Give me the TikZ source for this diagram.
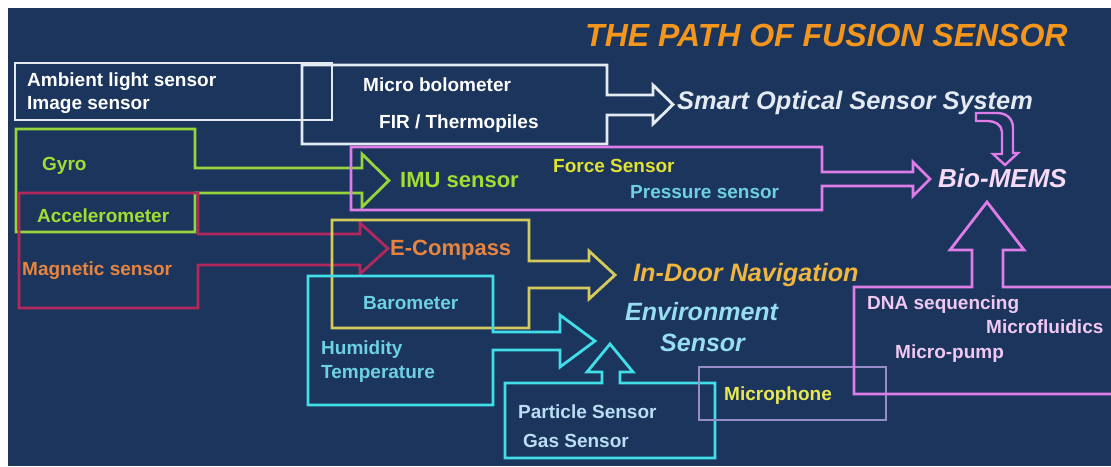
\documentclass[tikz,border=0pt]{standalone}
\usepackage{fontspec}
\setmainfont{Liberation Sans}
\definecolor{bg}{RGB}{27,53,93}
\definecolor{cwhite}{RGB}{228,234,242}
\definecolor{cgreen}{RGB}{150,212,60}
\definecolor{cred}{RGB}{178,40,92}
\definecolor{cpink}{RGB}{222,125,232}
\definecolor{cyel}{RGB}{212,202,92}
\definecolor{ccyan}{RGB}{64,222,232}
\definecolor{clav}{RGB}{150,140,200}
\definecolor{tgreen}{RGB}{160,222,50}
\definecolor{torange}{RGB}{232,132,62}
\definecolor{tyellow}{RGB}{226,226,48}
\definecolor{tcyan}{RGB}{110,208,228}
\definecolor{tlblue}{RGB}{185,222,245}
\definecolor{tenv}{RGB}{150,222,240}
\definecolor{tnav}{RGB}{240,182,62}
\definecolor{tmic}{RGB}{232,232,82}
\definecolor{tpink}{RGB}{240,200,242}
\definecolor{tbio}{RGB}{246,218,246}
\definecolor{ttitle}{RGB}{244,150,28}
\begin{document}
\begin{tikzpicture}[x=1pt,y=-1pt,
  blk/.style={line width=2.8pt, line join=miter},
  lbl/.style={inner sep=0pt, anchor=west, font=\bfseries\fontsize{19}{22}\selectfont, text height=13.6pt, text depth=0pt},
  midlbl/.style={lbl, font=\bfseries\fontsize{22}{26}\selectfont, text height=15.8pt},
  bigit/.style={lbl, font=\bfseries\itshape\fontsize{25}{30}\selectfont, text height=18pt},
  smartit/.style={lbl, font=\bfseries\itshape\fontsize{25.4}{30}\selectfont, text height=18.2pt},
  bioit/.style={lbl, font=\bfseries\itshape\fontsize{26}{31}\selectfont, text height=18.6pt},
  navit/.style={lbl, font=\bfseries\itshape\fontsize{25.2}{30}\selectfont, text height=18pt},
  titlelbl/.style={lbl, font=\bfseries\itshape\fontsize{32}{38}\selectfont, text height=23pt}
]
\useasboundingbox (0,0) rectangle (1111,466);
\fill[white] (0,0) rectangle (1111,466);
\fill[bg] (8,8) rectangle (1111,466);

\begin{scope}
\clip (8,8) rectangle (1111,466);
% white boxes
\draw[blk, cwhite] (15,63) rectangle (332,120);
\draw[blk, cwhite] (302,65) -- (607,65) -- (607,95) -- (653,95) -- (653,85) -- (673,104.5) -- (653,124) -- (653,115) -- (607,115) -- (607,144) -- (302,144) -- cycle;
% green
\draw[blk, cgreen] (16,129) -- (195,129) -- (195,168) -- (362,168) -- (362,154) -- (389,180.5) -- (362,207) -- (362,193) -- (195,193) -- (195,232) -- (16,232) -- cycle;
% crimson
\draw[blk, cred] (19,193) -- (198,193) -- (198,234) -- (360,234) -- (360,223) -- (388,248.5) -- (360,274) -- (360,265) -- (198,265) -- (198,308) -- (19,308) -- cycle;
% pink IMU
\draw[blk, cpink] (351,147) -- (822,147) -- (822,172) -- (913,172) -- (913,162) -- (930,179) -- (913,196) -- (913,186) -- (822,186) -- (822,210) -- (351,210) -- cycle;
% yellow
\draw[blk, cyel] (332,220) -- (529,220) -- (529,261) -- (589,261) -- (589,251) -- (615,275) -- (589,299) -- (589,288) -- (529,288) -- (529,328) -- (332,328) -- cycle;
% cyan 1
\draw[blk, ccyan] (308,276) -- (493,276) -- (493,332) -- (560,332) -- (560,315) -- (595,341) -- (560,367) -- (560,350) -- (493,350) -- (493,405) -- (308,405) -- cycle;
% cyan 2
\draw[blk, ccyan] (505,383) -- (602,383) -- (602,372) -- (587,372) -- (610,344) -- (633,372) -- (620,372) -- (620,383) -- (715,383) -- (715,458) -- (505,458) -- cycle;
% microphone box
\draw[blk, clav] (699,367) rectangle (886,420);
% pink bio
\draw[blk, cpink] (854,287) -- (972,287) -- (972,250) -- (950,250) -- (987,202) -- (1024,250) -- (1003,250) -- (1003,287) -- (1120,287) -- (1120,394) -- (854,394) -- cycle;
% curved pink arrow
\draw[blk, cpink, line width=2.4pt] (976,113) -- (997,113) .. controls (1007,113) and (1013,119) .. (1013,128) -- (1013,153) -- (1018,153) -- (1005,165) -- (993,154) -- (1002,154) -- (1002,132) .. controls (1002,125) and (995,121) .. (988,121) -- (976,121) -- cycle;
\end{scope}

% labels
\node[titlelbl, text=ttitle] (title) at (585,35) {THE PATH OF FUSION SENSOR};
\node[lbl, white] (amb) at (27,80) {Ambient light sensor};
\node[lbl, white] (img) at (27,103) {Image sensor};
\node[lbl, white] (bolo) at (363,85) {Micro bolometer};
\node[lbl, white] (fir) at (379,122) {FIR / Thermopiles};
\node[smartit, text=cwhite] (smart) at (677,100) {Smart Optical Sensor System};
\node[lbl, text=tgreen] (gyro) at (42,164) {Gyro};
\node[lbl, text=tgreen] (acc) at (37,216) {Accelerometer};
\node[midlbl, text=tgreen] (imu) at (400,180) {IMU sensor};
\node[lbl, text=tyellow] (force) at (553,166) {Force Sensor};
\node[lbl, text=tcyan] (press) at (630,192) {Pressure sensor};
\node[bioit, text=tbio] (bio) at (938,178) {Bio-MEMS};
\node[lbl, text=torange] (mag) at (22,269) {Magnetic sensor};
\node[midlbl, text=torange] (ecomp) at (390,248) {E-Compass};
\node[navit, text=tnav] (nav) at (633,272) {In-Door Navigation};
\node[lbl, text=tcyan] (baro) at (363,303) {Barometer};
\node[lbl, text=tcyan] (hum) at (321,348) {Humidity};
\node[lbl, text=tcyan] (temp) at (321,372) {Temperature};
\node[bigit, text=tenv] (env) at (625,311) {Environment};
\node[bigit, text=tenv] (envs) at (660,342) {Sensor};
\node[lbl, text=tlblue] (part) at (518,412) {Particle Sensor};
\node[lbl, text=tlblue] (gas) at (523,441) {Gas Sensor};
\node[lbl, text=tmic] (mic) at (724,394) {Microphone};
\node[lbl, text=tpink] (dna) at (867,303) {DNA sequencing};
\node[lbl, text=tpink] (mfl) at (986,327) {Microfluidics};
\node[lbl, text=tpink] (mpump) at (895,352) {Micro-pump};
\end{tikzpicture}
\end{document}
